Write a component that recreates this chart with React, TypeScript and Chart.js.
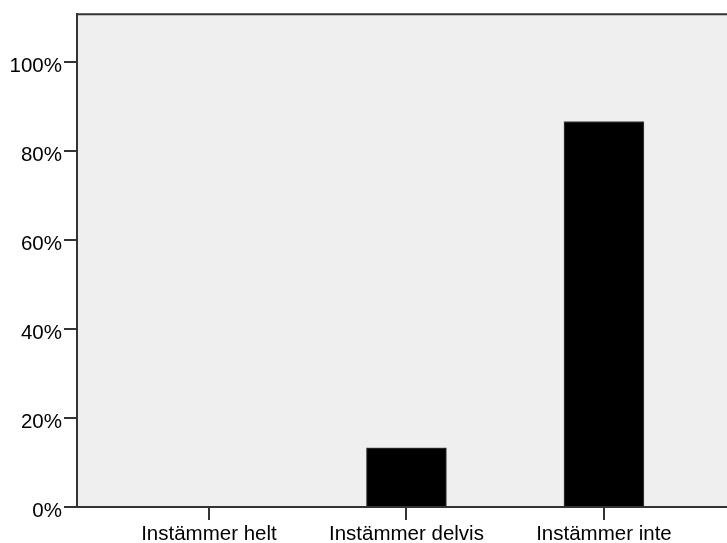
import React, { useEffect, useRef } from "react";
import { Chart, registerables } from "chart.js";

Chart.register(...registerables);

const categories = ["Instämmer helt", "Instämmer delvis", "Instämmer inte"];
const percentValues = [0, 13.3, 86.7];
const yTickValues = [0, 20, 40, 60, 80, 100];
const Y_MAX = 110.8;

const frame = {
  id: "frame",
  beforeDraw(chart: any) {
    const { ctx, chartArea } = chart;
    ctx.save();
    ctx.fillStyle = "#efefef";
    ctx.fillRect(chartArea.left, chartArea.top, chartArea.right - chartArea.left, chartArea.bottom - chartArea.top);
    ctx.restore();
  },
  afterDraw(chart: any) {
    const { ctx, chartArea } = chart;
    ctx.save();
    ctx.strokeStyle = "#333333";
    ctx.lineWidth = 2;
    ctx.beginPath();
    ctx.moveTo(chartArea.left, chartArea.top);
    ctx.lineTo(chartArea.right, chartArea.top);
    ctx.stroke();
    ctx.restore();
  },
};

export default function App() {
  const ref = useRef<HTMLCanvasElement>(null);
  useEffect(() => {
    if (!ref.current) return;
    const font = { family: "'Liberation Sans', Arial, sans-serif", size: 20.5 };
    const chart = new Chart(ref.current, {
      type: "bar",
      data: {
        datasets: [
          {
            data: categories.map((_, i) => ({ x: i, y: percentValues[i] })),
            backgroundColor: "#000000",
            borderColor: "#444444",
            borderWidth: 1,
            barThickness: 80,
          },
        ],
      },
      plugins: [frame],
      options: {
        responsive: false,
        animation: false,
        layout: { padding: { top: 14, right: 0, left: 0, bottom: 0 } },
        plugins: { legend: { display: false }, tooltip: { enabled: false } },
        scales: {
          x: {
            type: "linear",
            offset: false,
            min: -0.668,
            max: 2.623,
            afterBuildTicks: (s: any) => {
              s.ticks = categories.map((_, i) => ({ value: i }));
            },
            afterFit: (s: any) => {
              s.height = 36;
            },
            ticks: {
              color: "#000",
              font,
              padding: 2,
              maxRotation: 0,
              autoSkip: false,
              callback: (v: any) => categories[Math.round(Number(v))] ?? "",
            },
            grid: { offset: false, drawOnChartArea: false, tickLength: 13, color: "#333", lineWidth: 2 },
            border: { display: true, color: "#333", width: 2 },
          },
          y: {
            min: 0,
            max: Y_MAX,
            afterBuildTicks: (s: any) => {
              s.ticks = yTickValues.map((v) => ({ value: v }));
            },
            afterFit: (s: any) => {
              s.width = 77;
            },
            ticks: {
              color: "#000",
              font,
              padding: 2,
              labelOffset: 4,
              callback: (v: any) => `${v}%`,
            },
            grid: { drawOnChartArea: false, tickLength: 13, color: "#333", lineWidth: 2 },
            border: { display: true, color: "#333", width: 2 },
          },
        },
      },
    });
    return () => chart.destroy();
  }, []);
  return (
    <div style={{ position: "absolute", left: 0, top: 0, width: 727, height: 543, background: "#fff" }}>
      <canvas ref={ref} width={727} height={543} />
    </div>
  );
}
